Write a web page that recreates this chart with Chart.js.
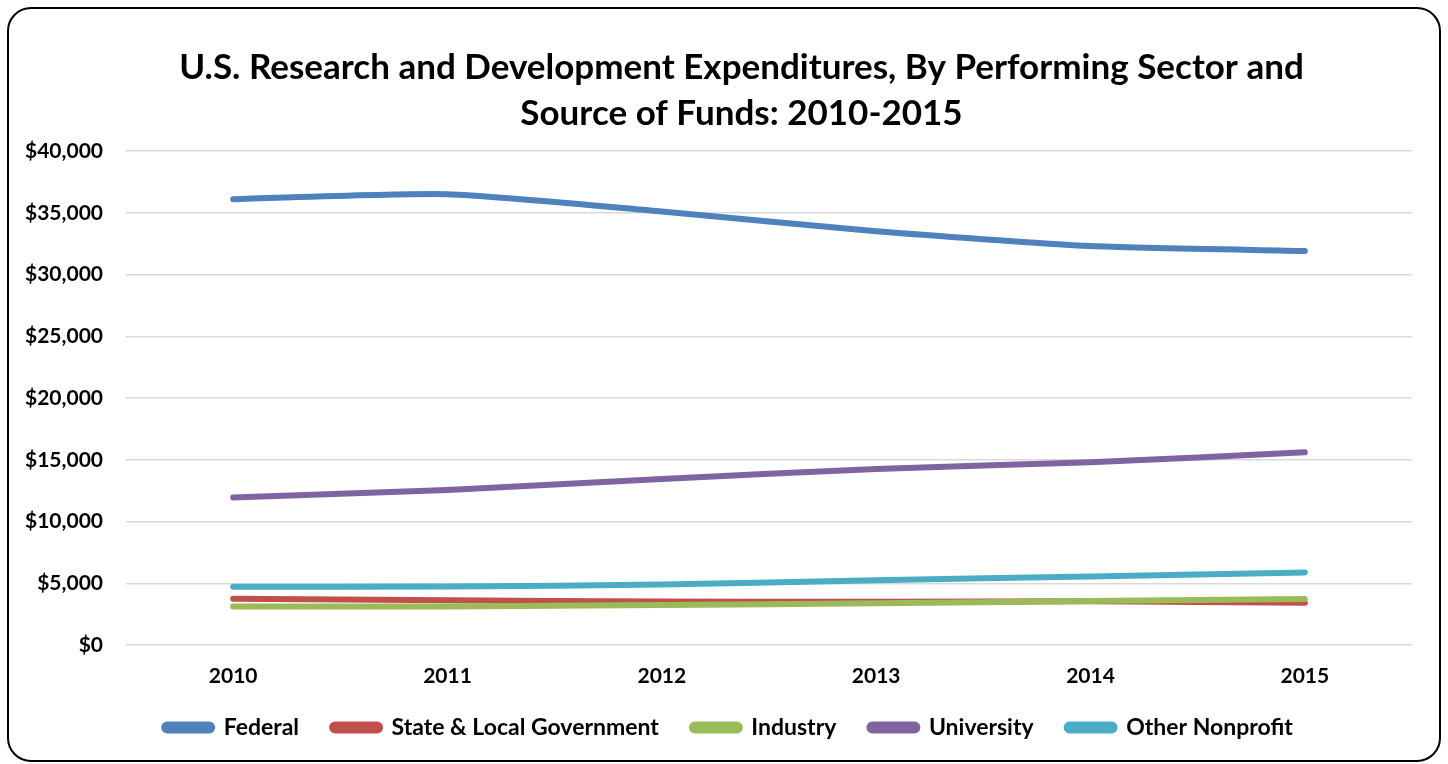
<!DOCTYPE html>
<html lang="en">
<head>
  <meta charset="utf-8">
  <script src="https://cdn.jsdelivr.net/npm/chart.js@4.4.1/dist/chart.umd.min.js"></script>
  <style>
    html, body { margin: 0; padding: 0; background: #fff; }
    .frame {
      position: absolute;
      left: 7px;
      top: 7px;
      width: 1430px;
      height: 751px;
      border: 2px solid #000;
      border-radius: 24px;
      background: #fff;
      overflow: hidden;
    }
  </style>
</head>
<body>
  <div class="frame">
    <canvas id="rdChart" width="1430" height="751"></canvas>
  </div>

  <script>
    // years on the x axis
    const years = ['2010', '2011', '2012', '2013', '2014', '2015'];

    // values in millions of dollars
    const federal = [36100, 36500, 35100, 33500, 32300, 31900];
    const stateLocal = [3750, 3620, 3520, 3500, 3540, 3420];
    const industry = [3120, 3120, 3230, 3380, 3560, 3720];
    const university = [11950, 12550, 13450, 14250, 14800, 15600];
    const otherNonprofit = [4720, 4740, 4900, 5250, 5550, 5880];

    const seriesNames = ['Federal', 'State & Local Government', 'Industry', 'University', 'Other Nonprofit'];
    const seriesColors = ['#4F81BD', '#C0504D', '#9BBB59', '#8064A2', '#4BACC6'];
    const seriesData = [federal, stateLocal, industry, university, otherNonprofit];

    const yTicks = [0, 5000, 10000, 15000, 20000, 25000, 30000, 35000, 40000];

    const FONT = 'Lato, "Open Sans", sans-serif';

    const datasets = seriesNames.map(function(name, i) {
      return {
        label: name,
        data: seriesData[i],
        borderColor: seriesColors[i],
        backgroundColor: seriesColors[i],
        borderWidth: 6,
        borderCapStyle: 'round',
        tension: 0.2,
        pointRadius: 0,
        fill: false,
        order: seriesNames.length - i
      };
    });

    // the original title and legend sit a bit right of the canvas centre
    const nudgeBlocks = {
      id: 'nudgeBlocks',
      afterLayout: function(chart) {
        chart.titleBlock.left += 62;
        chart.legend.left += 36;
      }
    };

    new Chart(document.getElementById('rdChart'), {
      type: 'line',
      data: { labels: years, datasets: datasets },
      plugins: [nudgeBlocks],
      options: {
        responsive: false,
        animation: false,
        layout: { padding: { left: 0, right: 27, top: 0, bottom: 11 } },
        scales: {
          x: {
            offset: true,
            afterFit: function(scale) { scale.height = 38; },
            grid: { display: false, drawTicks: false },
            border: { display: false },
            ticks: {
              color: '#000',
              padding: 19,
              font: { family: FONT, size: 21, weight: 'bold' }
            }
          },
          y: {
            min: 0,
            max: 40000,
            afterFit: function(scale) { scale.width = 117; },
            afterBuildTicks: function(scale) {
              scale.ticks = yTicks.map(function(v) { return { value: v }; });
            },
            grid: { color: '#D9D9D9', lineWidth: 1.5, drawTicks: false },
            border: { display: false },
            ticks: {
              color: '#000',
              padding: 23,
              font: { family: FONT, size: 21, weight: 'bold' },
              callback: function(value) {
                return '$' + value.toLocaleString('en-US');
              }
            }
          }
        },
        plugins: {
          title: {
            display: true,
            text: ['U.S. Research and Development Expenditures, By Performing Sector and', 'Source of Funds: 2010-2015'],
            color: '#000',
            font: { family: FONT, size: 35, weight: 'bold', lineHeight: 1.3 },
            padding: { top: 36, bottom: 15 }
          },
          legend: {
            position: 'bottom',
            labels: {
              color: '#000',
              boxWidth: 48,
              boxHeight: 6,
              useBorderRadius: true,
              borderRadius: 3,
              padding: 33,
              font: { family: FONT, size: 23, weight: 'bold' },
              sort: function(a, b) { return a.datasetIndex - b.datasetIndex; }
            }
          },
          tooltip: { enabled: false }
        }
      }
    });
  </script>
</body>
</html>
